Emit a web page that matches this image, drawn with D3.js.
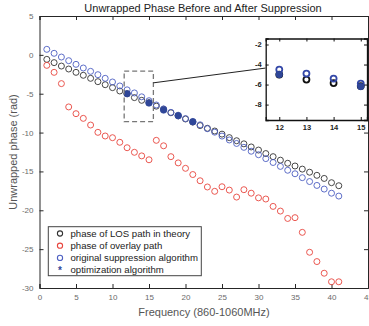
<!DOCTYPE html>
<html><head><meta charset="utf-8">
<script src="https://cdn.jsdelivr.net/npm/d3@7"></script>
<style>html,body{margin:0;padding:0;background:#fff;overflow:hidden}</style>
</head><body><svg id="c" width="369" height="326"></svg>
<script>
const freqs = d3.range(1, 42);
const losTheory = [-0.58,-1.0,-1.44,-1.82,-2.25,-2.63,-3.02,-3.45,-3.84,-4.22,-4.65,-5.0,-5.5,-5.85,-6.15,-6.6,-7.0,-7.45,-7.85,-8.25,-8.65,-9.1,-9.45,-9.8,-10.2,-10.65,-11.05,-11.45,-11.85,-12.25,-12.7,-13.1,-13.55,-13.95,-14.3,-14.7,-15.1,-15.5,-15.9,-16.45,-16.84];
const overlay = [-1.35,-2.25,-3.7,-6.7,-7.57,-8.17,-9.03,-9.97,-10.44,-10.66,-11.25,-11.95,-12.54,-13.0,-13.5,-11.0,-11.7,-13.1,-13.9,-14.6,-15.4,-16.2,-17.0,-17.56,-16.97,-17.4,-18.3,-17.35,-17.8,-18.4,-18.55,-19.5,-20.1,-21.05,-20.95,-22.84,-25.4,-26.6,-28.1,-29.2,-29.2];
const original = [0.71,0.2,-0.28,-0.75,-1.22,-1.69,-2.12,-2.55,-3.02,-3.49,-4.0,-4.5,-4.9,-5.4,-5.9,-6.45,-6.95,-7.4,-7.85,-8.2,-8.6,-9.0,-9.5,-9.95,-10.45,-10.95,-11.4,-11.9,-12.4,-12.85,-13.35,-13.85,-14.35,-14.85,-15.3,-15.8,-16.3,-16.8,-17.27,-17.8,-18.17];
const optFreqs = [12, 15, 17, 19, 21];
const optValues = [-5.0, -6.2, -7.1, -7.8, -8.6];
const xTicks = [0,5,10,15,20,25,30,35,40,45];
const yTicks = [5,0,-5,-10,-15,-20,-25,-30];
const insetXTicks = [12,13,14,15];
const insetYTicks = [-2,-4,-6,-8];
const zoomBox = {x0: 11.6, x1: 15.6, y0: -2.1, y1: -8.6};
const legendLabels = ["phase of LOS path in theory","phase of overlay path","original suppression algorithm","optimization algorithm"];

const C = {los:"#333333", ovl:"#e8463e", orig:"#4d5fc2", opt:"#2f4698", axis:"#262626", tick:"#6a6a6a"};
const FONT = "'Liberation Sans', Arial, sans-serif";

const svg = d3.select("#c");
const M = {l:39.5, r:368, t:16, b:288};
const x = d3.scaleLinear().domain([0,45]).range([M.l, M.r]);
const y = d3.scaleLinear().domain([-30,5]).range([M.b, M.t]);

// title
svg.append("text").attr("x",203).attr("y",12).attr("text-anchor","middle")
  .attr("font-family",FONT).attr("font-size",11).attr("fill","#222")
  .text("Unwrapped Phase Before and After Suppression");

// axes
const gx = svg.append("g").attr("transform",`translate(0,${M.b})`)
  .call(d3.axisBottom(x).tickValues(xTicks).tickSize(-4).tickPadding(6).tickFormat(d3.format("d")));
const gxt = svg.append("g").attr("transform",`translate(0,${M.t})`)
  .call(d3.axisTop(x).tickValues(xTicks).tickSize(-4).tickFormat(""));
const gy = svg.append("g").attr("transform",`translate(${M.l},0)`)
  .call(d3.axisLeft(y).tickValues(yTicks).tickSize(-4).tickPadding(6).tickFormat(d3.format("d")));
const gyr = svg.append("g").attr("transform",`translate(${M.r},0)`)
  .call(d3.axisRight(y).tickValues(yTicks).tickSize(-4).tickFormat(""));
[gx,gxt,gy,gyr].forEach(g=>{
  g.select(".domain").attr("stroke",C.axis).attr("stroke-width",1);
  g.selectAll(".tick line").attr("stroke",C.axis);
  g.selectAll(".tick text").attr("font-family",FONT).attr("font-size",8).attr("fill",C.tick);
});
gy.selectAll(".tick text").text(d=>d<0?"-"+Math.abs(d):d);

// axis labels
svg.append("text").attr("x",204).attr("y",316).attr("text-anchor","middle")
  .attr("font-family",FONT).attr("font-size",11).attr("fill","#555")
  .text("Frequency (860-1060MHz)");
svg.append("text").attr("transform","translate(17,152) rotate(-90)").attr("text-anchor","middle")
  .attr("font-family",FONT).attr("font-size",11).attr("fill","#555")
  .text("Unwrapped phase (rad)");

// data
function circles(g, xs, ys, color, sx, sy, r, sw){
  g.selectAll(null).data(xs.map((f,i)=>[f,ys[i]])).enter().append("circle")
    .attr("cx",d=>sx(d[0])).attr("cy",d=>sy(d[1])).attr("r",r)
    .attr("fill","none").attr("stroke",color).attr("stroke-width",sw);
}
const gd = svg.append("g");
circles(gd, freqs, losTheory, C.los, x, y, 3, 0.9);
circles(gd, freqs, overlay, C.ovl, x, y, 3, 0.9);
circles(gd, freqs, original, C.orig, x, y, 3, 0.9);
gd.selectAll(null).data(optFreqs.map((f,i)=>[f,optValues[i]])).enter().append("circle")
  .attr("cx",d=>x(d[0])).attr("cy",d=>y(d[1])).attr("r",3.3)
  .attr("fill",C.opt).attr("stroke",C.opt).attr("stroke-width",0.6);

// zoom box
svg.append("rect").attr("x",x(zoomBox.x0)).attr("y",y(zoomBox.y0))
  .attr("width",x(zoomBox.x1)-x(zoomBox.x0)).attr("height",y(zoomBox.y1)-y(zoomBox.y0))
  .attr("fill","none").attr("stroke","#777").attr("stroke-width",1.3).attr("stroke-dasharray","5,3");

// inset
const I = {l:265.7, r:367, t:38.5, b:120};
const ix = d3.scaleLinear().domain([11.5,15.23]).range([I.l,I.r]);
const iy = d3.scaleLinear().domain([-9.54,-1.4]).range([I.b,I.t]);

// connector line
svg.append("line").attr("x1",x(zoomBox.x1)).attr("y1",y(-3.6))
  .attr("x2",I.l).attr("y2",iy(-4.35)).attr("stroke","#222").attr("stroke-width",1);

svg.append("rect").attr("x",I.l).attr("y",I.t).attr("width",I.r-I.l).attr("height",I.b-I.t).attr("fill","#fff");
const gix = svg.append("g").attr("transform",`translate(0,${I.b})`)
  .call(d3.axisBottom(ix).tickValues(insetXTicks).tickSize(-3).tickPadding(5).tickFormat(d3.format("d")));
const gixt = svg.append("g").attr("transform",`translate(0,${I.t})`)
  .call(d3.axisTop(ix).tickValues(insetXTicks).tickSize(-3).tickFormat(""));
const giy = svg.append("g").attr("transform",`translate(${I.l},0)`)
  .call(d3.axisLeft(iy).tickValues(insetYTicks).tickSize(-3).tickPadding(4).tickFormat(d3.format("d")));
const giyr = svg.append("g").attr("transform",`translate(${I.r},0)`)
  .call(d3.axisRight(iy).tickValues(insetYTicks).tickSize(-3).tickFormat(""));
[gix,gixt,giy,giyr].forEach(g=>{
  g.select(".domain").attr("stroke","#111").attr("stroke-width",1.3);
  g.selectAll(".tick line").attr("stroke","#111");
  g.selectAll(".tick text").attr("font-family",FONT).attr("font-size",7.5).attr("font-weight","bold").attr("fill","#222");
});
giy.selectAll(".tick text").text(d=>"-"+Math.abs(d));

const clipId = "ic";
svg.append("clipPath").attr("id",clipId).append("rect").attr("x",I.l).attr("y",I.t).attr("width",I.r-I.l).attr("height",I.b-I.t);
const gi = svg.append("g").attr("clip-path",`url(#${clipId})`);
circles(gi, freqs, losTheory, "#111", ix, iy, 3, 1.8);
circles(gi, freqs, original, "#3448a8", ix, iy, 3, 1.8);
gi.selectAll(null).data(optFreqs.map((f,i)=>[f,optValues[i]])).enter().append("circle")
  .attr("cx",d=>ix(d[0])).attr("cy",d=>iy(d[1])).attr("r",3.6).attr("fill","#2f4698");

// legend
const lg = svg.append("g");
lg.append("rect").attr("x",48.3).attr("y",226.7).attr("width",153).attr("height",49)
  .attr("fill","#fff").attr("stroke","#444").attr("stroke-width",1);
const legColors = [C.los, C.ovl, C.orig, C.opt];
legendLabels.forEach((t,i)=>{
  const cy = 233.5 + i*12.2;
  if(i<3){
    lg.append("circle").attr("cx",60).attr("cy",cy).attr("r",2.6).attr("fill","none")
      .attr("stroke",legColors[i]).attr("stroke-width",1.1);
  } else {
    lg.append("text").attr("x",60).attr("y",cy+3.6).attr("text-anchor","middle")
      .attr("font-family",FONT).attr("font-size",10).attr("font-weight","bold").attr("fill",C.opt).text("*");
  }
  lg.append("text").attr("x",70.5).attr("y",cy+3.3).attr("font-family",FONT).attr("font-size",9.6)
    .attr("fill","#222").text(t);
});
</script></body></html>
